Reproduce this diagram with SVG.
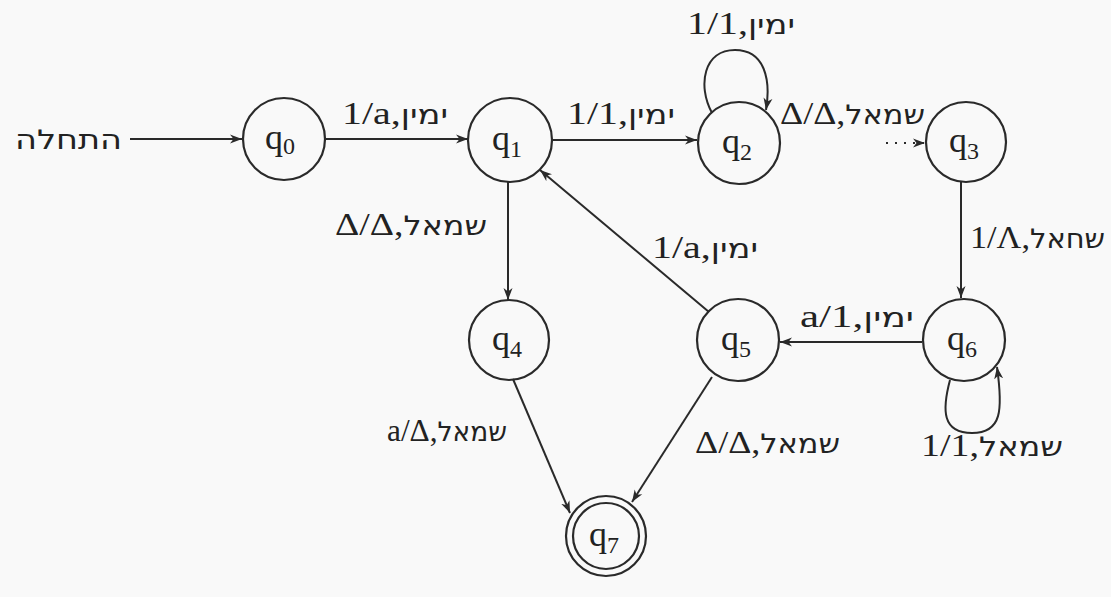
<svg xmlns="http://www.w3.org/2000/svg" width="1111" height="597" viewBox="0 0 1111 597">
<style>
.n{fill:none;stroke:#2a2a2a;stroke-width:2.2}
.e{fill:none;stroke:#2a2a2a;stroke-width:2}
.q{font-family:"Liberation Serif","DejaVu Serif",serif;font-size:36px;fill:#222;text-anchor:middle}
.s{font-size:24px}
.l{font-family:"Liberation Serif","DejaVu Serif",serif;font-size:32px;fill:#222;direction:ltr}
.r{font-family:"Liberation Serif",serif;font-size:32px}
.h{font-family:"DejaVu Sans","Noto Sans",sans-serif;font-size:27px}
</style>
<defs>
<marker id="ah" viewBox="0 0 12 10" refX="12" refY="5" markerWidth="12" markerHeight="10" markerUnits="userSpaceOnUse" orient="auto">
<path d="M0,0.5 L12,5 L0,9.5 L3.5,5 Z" fill="#2a2a2a"/>
</marker>
</defs>
<rect width="1111" height="597" fill="#f9f9f9"/>
<g id="connectors">
<path class="e" d="M130,139 L242,139" marker-end="url(#ah)"/>
<path class="e" d="M325,139 L468,139" marker-end="url(#ah)"/>
<path class="e" d="M552,140 L697,140" marker-end="url(#ah)"/>
<path class="e" d="M712,113 C697,85 704,50 735,50 C765,50 771,80 766,110" marker-end="url(#ah)"/>
<path class="e" d="M886,143 L925,143" stroke-dasharray="2 7" marker-end="url(#ah)"/>
<path class="e" d="M961,182 L961,298" marker-end="url(#ah)"/>
<path class="e" d="M508,182 L508,300" marker-end="url(#ah)"/>
<path class="e" d="M709,312 L540,170" marker-end="url(#ah)"/>
<path class="e" d="M922,342 L780,342" marker-end="url(#ah)"/>
<path class="e" d="M950,380 C942,410 942,433 972,433 C1002,433 1003,410 997,367" marker-end="url(#ah)"/>
<path class="e" d="M513,379 L570,513" marker-end="url(#ah)"/>
<path class="e" d="M712,377 L632,502" marker-end="url(#ah)"/>
</g>
<g id="labels">
<text class="l" x="15" y="149" textLength="107" lengthAdjust="spacingAndGlyphs"><tspan class="h" font-size="30">התחלה</tspan></text>
<text class="l" x="342" y="124" textLength="106" lengthAdjust="spacingAndGlyphs"><tspan class="r">1/a,</tspan><tspan class="h">ימין</tspan></text>
<text class="l" x="567" y="124" textLength="108" lengthAdjust="spacingAndGlyphs"><tspan class="r">1/1,</tspan><tspan class="h">ימין</tspan></text>
<text class="l" x="687" y="34" textLength="108" lengthAdjust="spacingAndGlyphs"><tspan class="r">1/1,</tspan><tspan class="h">ימין</tspan></text>
<text class="l" x="780" y="124" textLength="145" lengthAdjust="spacingAndGlyphs"><tspan class="r">Δ/Δ,</tspan><tspan class="h">שמאל</tspan></text>
<text class="l" x="970" y="248" textLength="135" lengthAdjust="spacingAndGlyphs"><tspan class="r">1/Λ,</tspan><tspan class="h">שחאל</tspan></text>
<text class="l" x="335" y="235" textLength="152" lengthAdjust="spacingAndGlyphs"><tspan class="r">Δ/Δ,</tspan><tspan class="h">שמאל</tspan></text>
<text class="l" x="652" y="258" textLength="106" lengthAdjust="spacingAndGlyphs"><tspan class="r">1/a,</tspan><tspan class="h">ימין</tspan></text>
<text class="l" x="800" y="327" textLength="114" lengthAdjust="spacingAndGlyphs"><tspan class="r">a/1,</tspan><tspan class="h">ימין</tspan></text>
<text class="l" x="921" y="456" textLength="142" lengthAdjust="spacingAndGlyphs"><tspan class="r">1/1,</tspan><tspan class="h">שמאל</tspan></text>
<text class="l" x="387" y="441" textLength="120" lengthAdjust="spacingAndGlyphs"><tspan class="r">a/Δ,</tspan><tspan class="h">שמאל</tspan></text>
<text class="l" x="695" y="453" textLength="145" lengthAdjust="spacingAndGlyphs"><tspan class="r">Δ/Δ,</tspan><tspan class="h">שמאל</tspan></text>
</g>
<g id="q0"><circle class="n" cx="284" cy="139" r="41"/><text class="q" x="280" y="149">q<tspan class="s" dy="5">0</tspan></text></g>
<g id="q1"><circle class="n" cx="510" cy="140" r="42"/><text class="q" x="507" y="150">q<tspan class="s" dy="7">1</tspan></text></g>
<g id="q2"><circle class="n" cx="739" cy="143" r="41"/><text class="q" x="737" y="153">q<tspan class="s" dy="7">2</tspan></text></g>
<g id="q3"><circle class="n" cx="966" cy="142" r="40"/><text class="q" x="964" y="152">q<tspan class="s" dy="7">3</tspan></text></g>
<g id="q4"><circle class="n" cx="509" cy="340" r="40"/><text class="q" x="507" y="350">q<tspan class="s" dy="7">4</tspan></text></g>
<g id="q5"><circle class="n" cx="738" cy="340" r="41"/><text class="q" x="736" y="350">q<tspan class="s" dy="7">5</tspan></text></g>
<g id="q6"><circle class="n" cx="964" cy="340" r="41"/><text class="q" x="962" y="350">q<tspan class="s" dy="7">6</tspan></text></g>
<g id="q7"><circle class="n" cx="606" cy="536" r="40"/><circle class="n" cx="606" cy="536" r="33"/><text class="q" x="604" y="546">q<tspan class="s" dy="7">7</tspan></text></g>
</svg>
